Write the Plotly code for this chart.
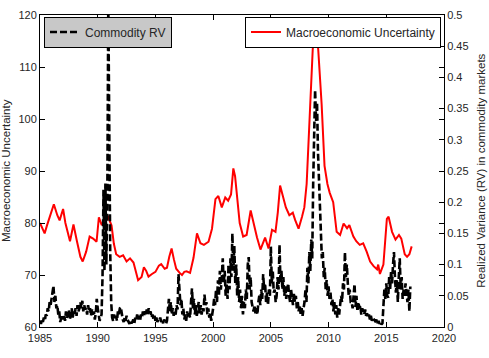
import numpy as np
import plotly.graph_objects as go

# ---------------- data ----------------
x_ticks = [1985, 1990, 1995, 2000, 2005, 2010, 2015, 2020]
left_ticks = [60, 70, 80, 90, 100, 110, 120]
right_ticks = [0, 0.05, 0.1, 0.15, 0.2, 0.25, 0.3, 0.35, 0.4, 0.45, 0.5]

# Macroeconomic uncertainty (left axis)
mu_years = [1985.0, 1985.2, 1985.4, 1985.6, 1985.9, 1986.2, 1986.5, 1986.7, 1987.0, 1987.2,
            1987.6, 1987.9, 1988.2, 1988.5, 1988.7, 1989.0, 1989.3, 1989.6, 1989.9, 1990.1,
            1990.35, 1990.6, 1990.9, 1991.2, 1991.4, 1991.6, 1991.9, 1992.2, 1992.5, 1992.8,
            1993.1, 1993.3, 1993.5, 1993.8, 1994.0, 1994.2, 1994.4, 1994.7, 1995.0, 1995.3,
            1995.5, 1995.8, 1996.0, 1996.2, 1996.4, 1996.6, 1996.8, 1997.1, 1997.3, 1997.5,
            1997.7, 1998.0, 1998.3, 1998.6, 1998.9, 1999.2, 1999.6, 1999.9, 2000.2, 2000.45,
            2000.75, 2001.05, 2001.3, 2001.55, 2001.75, 2001.9, 2002.1, 2002.3, 2002.6, 2002.9,
            2003.25, 2003.5, 2003.8, 2004.1, 2004.3, 2004.5, 2004.8, 2005.1, 2005.4, 2005.6,
            2005.8, 2006.0, 2006.3, 2006.6, 2006.9, 2007.1, 2007.4, 2007.7, 2007.9, 2008.1,
            2008.4, 2008.63, 2008.87, 2009.1, 2009.4, 2009.65, 2009.9, 2010.1, 2010.4, 2010.7,
            2011.0, 2011.3, 2011.6, 2011.8, 2012.15, 2012.4, 2012.7, 2013.0, 2013.3, 2013.6,
            2013.9, 2014.2, 2014.3, 2014.45, 2014.75, 2015.05, 2015.2, 2015.5, 2015.8, 2016.1,
            2016.3, 2016.6, 2016.8, 2017.0, 2017.2]
mu_values = [80.0, 79.0, 78.0, 79.5, 81.5, 83.6, 81.5, 80.5, 82.7, 80.0,
             76.5, 79.7, 76.5, 73.5, 72.6, 74.5, 77.4, 77.0, 76.4, 81.1,
             79.6, 80.8, 81.2, 79.5, 76.0, 74.0, 73.5, 73.8, 72.6, 73.2,
             72.4, 70.5, 69.0, 69.6, 71.5, 70.8, 69.7, 70.2, 70.6, 71.8,
             72.1, 71.2, 71.4, 73.5, 75.1, 73.0, 71.2, 70.4, 70.0, 70.6,
             70.7, 70.4, 73.3, 78.0, 76.1, 75.8, 76.4, 78.9, 84.6, 85.2,
             83.0, 84.9, 84.3, 85.5, 90.5, 89.0, 84.0, 80.0, 77.4, 77.7,
             82.4, 80.0, 77.2, 74.9, 76.0, 77.2, 75.1, 78.7, 78.3, 82.0,
             87.2, 85.5, 83.0, 81.5, 82.0, 80.6, 78.9, 81.2, 83.0, 87.5,
             102.0, 113.5, 117.0, 113.5, 102.8, 91.0, 87.5, 85.8, 84.0, 78.3,
             77.7, 79.9, 79.0, 79.6, 77.4, 76.5, 75.8, 76.1, 74.5, 72.6,
             71.7, 71.1, 72.0, 70.2, 72.0, 80.8, 81.2, 78.3, 76.8, 77.7,
             77.0, 74.0, 73.5, 74.0, 75.5]

# Commodity realized variance (right axis), monthly from Jan 1985
rv_1985 = [0.010, 0.005, 0.012, 0.008, 0.015, 0.010, 0.020, 0.018, 0.030, 0.025, 0.040, 0.035]
rv_1986 = [0.045, 0.062, 0.066, 0.040, 0.050, 0.030, 0.035, 0.020, 0.025, 0.008, 0.015, 0.020]
rv_1987 = [0.012, 0.020, 0.010, 0.025, 0.015, 0.018, 0.028, 0.012, 0.020, 0.030, 0.015, 0.025]
rv_1988 = [0.020, 0.030, 0.018, 0.035, 0.025, 0.030, 0.040, 0.030, 0.042, 0.025, 0.035, 0.028]
rv_1989 = [0.030, 0.020, 0.035, 0.025, 0.030, 0.018, 0.028, 0.020, 0.025, 0.012, 0.022, 0.045]
rv_1990 = [0.030, 0.020, 0.010, 0.015, 0.020, 0.080, 0.220, 0.090, 0.230, 0.100, 0.210, 0.520]
rv_1991 = [0.250, 0.120, 0.040, 0.015, 0.010, 0.020, 0.012, 0.018, 0.010, 0.025, 0.020, 0.030]
rv_1992 = [0.032, 0.020, 0.012, 0.008, 0.015, 0.010, 0.018, 0.012, 0.008, 0.005, 0.010, 0.006]
rv_1993 = [0.008, 0.012, 0.005, 0.015, 0.010, 0.020, 0.012, 0.018, 0.010, 0.020, 0.015, 0.025]
rv_1994 = [0.018, 0.025, 0.020, 0.028, 0.018, 0.030, 0.022, 0.025, 0.015, 0.020, 0.012, 0.018]
rv_1995 = [0.010, 0.015, 0.008, 0.012, 0.010, 0.015, 0.008, 0.010, 0.006, 0.012, 0.008, 0.005]
rv_1996 = [0.010, 0.030, 0.045, 0.025, 0.040, 0.020, 0.030, 0.018, 0.025, 0.020, 0.035, 0.028]
rv_1997 = [0.085, 0.060, 0.035, 0.045, 0.020, 0.030, 0.012, 0.020, 0.010, 0.025, 0.015, 0.022]
rv_1998 = [0.015, 0.040, 0.062, 0.030, 0.045, 0.020, 0.035, 0.018, 0.030, 0.040, 0.022, 0.035]
rv_1999 = [0.020, 0.030, 0.025, 0.052, 0.035, 0.040, 0.020, 0.030, 0.015, 0.022, 0.010, 0.018]
rv_2000 = [0.030, 0.045, 0.035, 0.060, 0.040, 0.075, 0.050, 0.090, 0.060, 0.080, 0.110, 0.070]
rv_2001 = [0.090, 0.050, 0.070, 0.045, 0.100, 0.060, 0.110, 0.080, 0.150, 0.090, 0.130, 0.070]
rv_2002 = [0.100, 0.050, 0.080, 0.040, 0.060, 0.030, 0.050, 0.020, 0.040, 0.030, 0.060, 0.045]
rv_2003 = [0.100, 0.112, 0.060, 0.080, 0.040, 0.032, 0.025, 0.035, 0.022, 0.030, 0.020, 0.040]
rv_2004 = [0.050, 0.035, 0.060, 0.045, 0.085, 0.060, 0.070, 0.040, 0.055, 0.035, 0.060, 0.050]
rv_2005 = [0.129, 0.070, 0.090, 0.055, 0.060, 0.040, 0.050, 0.080, 0.060, 0.132, 0.070, 0.090]
rv_2006 = [0.060, 0.080, 0.050, 0.065, 0.045, 0.060, 0.070, 0.050, 0.040, 0.060, 0.045, 0.035]
rv_2007 = [0.055, 0.040, 0.050, 0.030, 0.040, 0.025, 0.035, 0.020, 0.030, 0.018, 0.030, 0.040]
rv_2008 = [0.060, 0.040, 0.095, 0.070, 0.120, 0.090, 0.140, 0.110, 0.230, 0.300, 0.380, 0.330]
rv_2009 = [0.360, 0.280, 0.240, 0.180, 0.150, 0.110, 0.120, 0.080, 0.095, 0.060, 0.075, 0.050]
rv_2010 = [0.065, 0.045, 0.055, 0.035, 0.045, 0.025, 0.040, 0.020, 0.035, 0.015, 0.030, 0.020]
rv_2011 = [0.035, 0.050, 0.040, 0.070, 0.060, 0.120, 0.080, 0.100, 0.070, 0.050, 0.060, 0.040]
rv_2012 = [0.040, 0.030, 0.050, 0.069, 0.032, 0.050, 0.025, 0.040, 0.030, 0.035, 0.020, 0.030]
rv_2013 = [0.025, 0.020, 0.028, 0.018, 0.022, 0.015, 0.020, 0.012, 0.018, 0.010, 0.015, 0.012]
rv_2014 = [0.010, 0.008, 0.012, 0.006, 0.010, 0.005, 0.008, 0.004, 0.006, 0.030, 0.060, 0.045]
rv_2015 = [0.070, 0.050, 0.047, 0.080, 0.060, 0.090, 0.070, 0.100, 0.120, 0.080, 0.055, 0.075]
rv_2016 = [0.040, 0.080, 0.110, 0.060, 0.080, 0.045, 0.060, 0.050, 0.070, 0.055, 0.040, 0.060]
rv_2017 = [0.025, 0.065]

rv_values = (rv_1985 + rv_1986 + rv_1987 + rv_1988 + rv_1989 + rv_1990 + rv_1991 + rv_1992
             + rv_1993 + rv_1994 + rv_1995 + rv_1996 + rv_1997 + rv_1998 + rv_1999 + rv_2000
             + rv_2001 + rv_2002 + rv_2003 + rv_2004 + rv_2005 + rv_2006 + rv_2007 + rv_2008
             + rv_2009 + rv_2010 + rv_2011 + rv_2012 + rv_2013 + rv_2014 + rv_2015 + rv_2016
             + rv_2017)
rv_years = 1985 + np.arange(len(rv_values)) / 12.0

FONT = "Liberation Sans, Arial, Helvetica, sans-serif"
TXT = "#262626"

fig = go.Figure()
fig.add_trace(go.Scatter(
    x=mu_years, y=mu_values, mode="lines", name="Macroeconomic Uncertainty",
    line=dict(color="#ff0000", width=2), yaxis="y", legend="legend2"))
fig.add_trace(go.Scatter(
    x=rv_years, y=rv_values, mode="lines", name="Commodity RV",
    line=dict(color="black", width=2.6, dash="7px,3px"), yaxis="y2", legend="legend"))

axis_common = dict(showgrid=False, zeroline=False, showline=True, linecolor="black",
                   linewidth=1, ticks="inside", ticklen=5, tickcolor="black",
                   tickfont=dict(family=FONT, size=11, color=TXT))

fig.update_layout(
    width=489, height=358,
    margin=dict(l=40, r=45, t=9, b=31),
    paper_bgcolor="white", plot_bgcolor="white",
    font=dict(family=FONT, size=11, color=TXT),
    xaxis=dict(range=[1985, 2020], tickmode="array", tickvals=x_ticks,
               ticktext=[str(v) for v in x_ticks], mirror="ticks",
               ticklabelstandoff=1, **axis_common),
    yaxis=dict(range=[60, 120], tickmode="array", tickvals=left_ticks,
               mirror="ticks", **axis_common),
    yaxis2=dict(range=[0, 0.5], tickmode="array", tickvals=right_ticks,
                ticktext=[("%g" % v) for v in right_ticks],
                overlaying="y", side="right", **axis_common),
    legend=dict(x=0.0099, y=0.995, xanchor="left", yanchor="top",
                bgcolor="#c8c8c8", bordercolor="black", borderwidth=1,
                font=dict(family=FONT, size=12, color=TXT)),
    legend2=dict(x=0.9926, y=0.995, xanchor="right", yanchor="top",
                 bgcolor="white", bordercolor="black", borderwidth=1,
                 font=dict(family=FONT, size=12, color=TXT)),
    showlegend=True,
    annotations=[
        dict(text="Macroeconomic Uncertainty", xref="paper", yref="paper",
             x=-0.084, y=0.5, xanchor="center", yanchor="middle", textangle=-90,
             showarrow=False, font=dict(family=FONT, size=11.5, color=TXT)),
        dict(text="Realized Variance (RV) in commodity markets", xref="paper", yref="paper",
             x=1.091, y=0.5, xanchor="center", yanchor="middle", textangle=-90,
             showarrow=False, font=dict(family=FONT, size=11.5, color=TXT)),
    ],
)

fig.write_html("out.html")
